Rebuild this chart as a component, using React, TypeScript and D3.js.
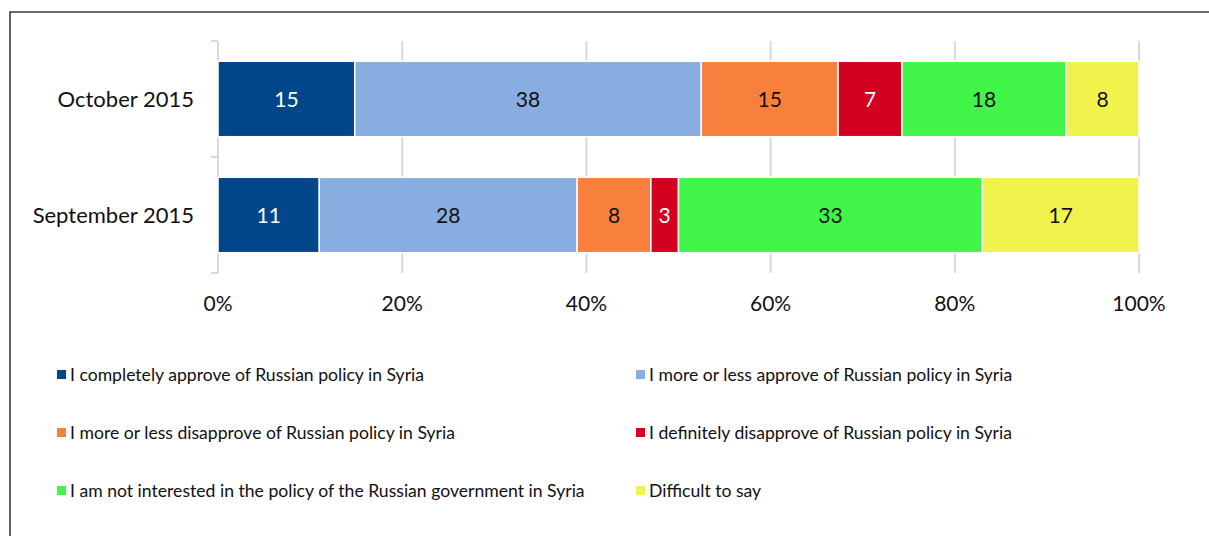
import React from "react";
import * as d3 from "d3";

const categories = ["October 2015", "September 2015"];
const seriesNames = [
  "I completely approve of Russian policy in Syria",
  "I more or less approve of Russian policy in Syria",
  "I more or less disapprove of Russian policy in Syria",
  "I definitely disapprove of Russian policy in Syria",
  "I am not interested in the policy of the Russian government in Syria",
  "Difficult to say",
];
const october2015 = [15, 38, 15, 7, 18, 8];
const september2015 = [11, 28, 8, 3, 33, 17];
const tickValues = [0, 0.2, 0.4, 0.6, 0.8, 1];
const colors = ["#00468a", "#88ade0", "#f8803c", "#d40020", "#40f548", "#eff34b"];
const labelColors = ["#ffffff", "#111111", "#111111", "#ffffff", "#111111", "#111111"];

const W = 1209;
const H = 536;
const FONT = "Lato, 'Open Sans', sans-serif";

export default function App() {
  const rows = categories.map((c, i) => {
    const vals = i === 0 ? october2015 : september2015;
    const o: any = { cat: c };
    seriesNames.forEach((s, j) => (o[s] = vals[j]));
    return o;
  });
  const stack = d3.stack<any>().keys(seriesNames).offset(d3.stackOffsetExpand);
  const layers = stack(rows);

  const x = d3.scaleLinear().domain([0, 1]).range([218, 1139]);
  const y = d3.scaleBand().domain(categories).range([41, 273]).paddingInner(0.35).paddingOuter(0.175);
  const step = y.step();
  const bandStarts = categories.map((c) => (y(c) as number) - step * 0.175);
  const boundaries = [...bandStarts, bandStarts[bandStarts.length - 1] + step];

  const legendCols = [57, 636];
  const legendRows = [375, 433, 491];

  return (
    <svg width={W} height={H} style={{ position: "absolute", left: 0, top: 0, background: "#fff" }} fontFamily={FONT}>
      <rect x={0} y={0} width={W} height={H} fill="#fff" />
      {/* frame */}
      <path d={`M10,${H} V12 H${W}`} fill="none" stroke="#3a3a3a" strokeWidth={1.6} />
      {/* gridlines */}
      {tickValues.map((t) => (
        <line key={t} x1={x(t)} x2={x(t)} y1={41} y2={273} stroke="#d9d9d9" strokeWidth={2} />
      ))}
      {/* category axis ticks */}
      {boundaries.map((b, i) => (
        <line key={i} x1={211} x2={x(0)} y1={b} y2={b} stroke="#d9d9d9" strokeWidth={2} />
      ))}
      {/* bars */}
      {layers.map((layer, j) =>
        layer.map((d, i) => {
          const x0 = x(d[0]);
          const x1 = x(d[1]);
          const yy = y(categories[i]) as number;
          return (
            <g key={`${j}-${i}`}>
              <rect x={x0} y={yy} width={x1 - x0} height={y.bandwidth()} fill={colors[j]} stroke="#ffffff" strokeWidth={1.5} />
              <text
                x={(x0 + x1) / 2}
                y={yy + y.bandwidth() / 2 + 7.5}
                textAnchor="middle"
                fontSize={21}
                fill={labelColors[j]}
              >
                {(d.data as any)[seriesNames[j]]}
              </text>
            </g>
          );
        })
      )}
      {/* category labels */}
      {categories.map((c) => (
        <text key={c} x={194} y={(y(c) as number) + y.bandwidth() / 2 + 8} textAnchor="end" fontSize={22} fill="#111">
          {c}
        </text>
      ))}
      {/* x tick labels */}
      {tickValues.map((t) => (
        <text key={t} x={x(t)} y={311} textAnchor="middle" fontSize={21} fill="#111">
          {`${Math.round(t * 100)}%`}
        </text>
      ))}
      {/* legend */}
      {seriesNames.map((s, k) => {
        const lx = legendCols[k % 2];
        const ly = legendRows[Math.floor(k / 2)];
        return (
          <g key={s}>
            <rect x={lx} y={ly - 5} width={9} height={9} fill={colors[k]} />
            <text x={lx + 13} y={ly + 6} fontSize={17.6} fill="#111">
              {s}
            </text>
          </g>
        );
      })}
    </svg>
  );
}
